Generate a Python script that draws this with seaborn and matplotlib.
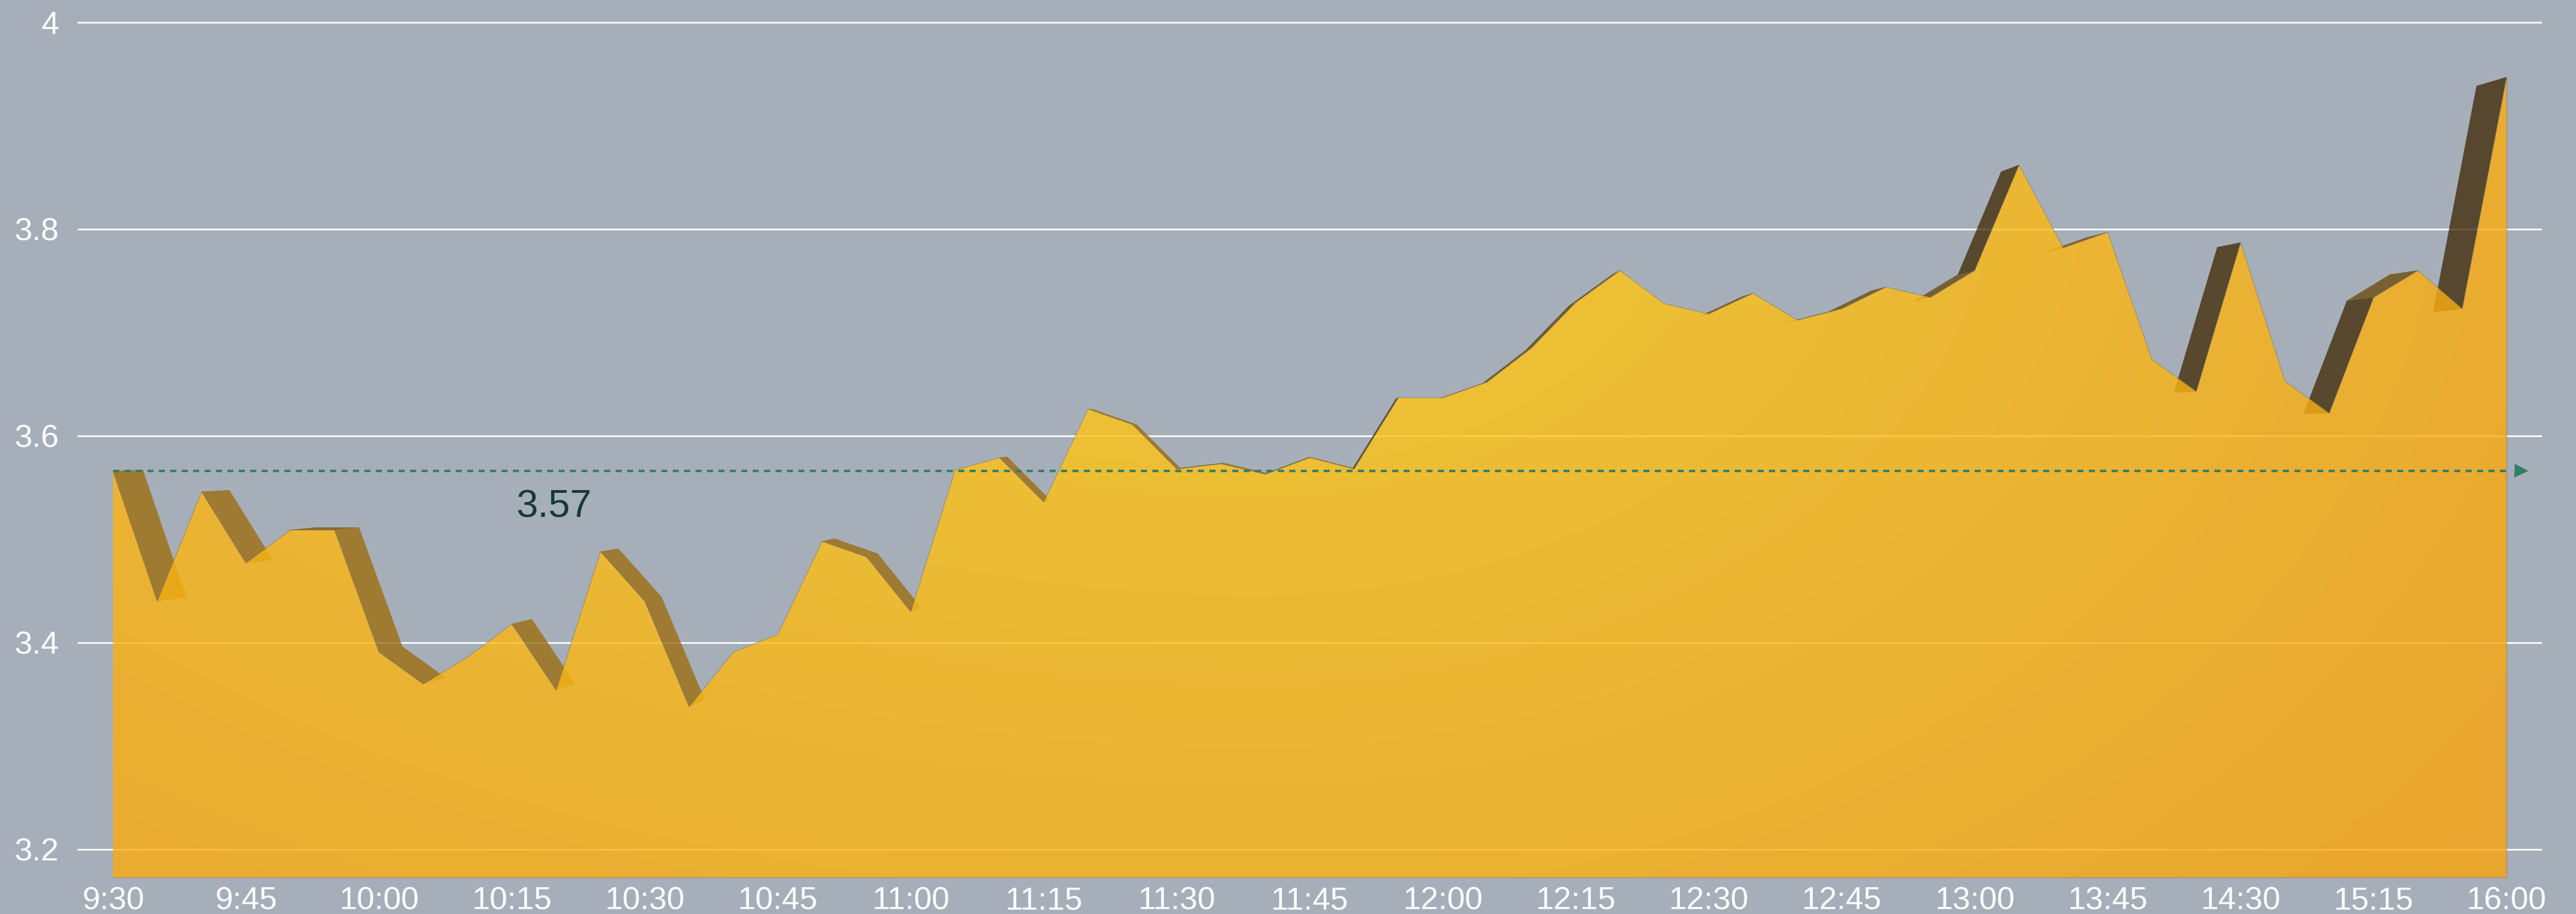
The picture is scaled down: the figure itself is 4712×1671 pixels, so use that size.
import numpy as np
import pandas as pd
import matplotlib
matplotlib.use("Agg")
import matplotlib.pyplot as plt
import seaborn as sns
from matplotlib.patches import Polygon

# ---------------- data ----------------
times = ["9:30", "9:35", "9:40", "9:45", "9:50", "9:55", "10:00", "10:05", "10:10", "10:15", "10:20", "10:25",
         "10:30", "10:35", "10:40", "10:45", "10:50", "10:55", "11:00", "11:05", "11:10", "11:15", "11:20", "11:25",
         "11:30", "11:35", "11:40", "11:45", "11:50", "11:55", "12:00", "12:05", "12:10", "12:15", "12:20", "12:25",
         "12:30", "12:35", "12:40", "12:45", "12:50", "12:55", "13:00", "13:15", "13:30", "13:45", "14:00", "14:15",
         "14:30", "14:45", "15:00", "15:15", "15:30", "15:45", "16:00"]

prices = [3.566, 3.440, 3.546, 3.477, 3.509, 3.509, 3.391, 3.360, 3.386, 3.418,
          3.354, 3.488, 3.440, 3.338, 3.391, 3.408, 3.498, 3.483, 3.430, 3.567,
          3.579, 3.536, 3.626, 3.611, 3.568, 3.573, 3.563, 3.579, 3.568, 3.637,
          3.637, 3.652, 3.685, 3.729, 3.760, 3.728, 3.718, 3.738, 3.712, 3.723,
          3.744, 3.734, 3.760, 3.862, 3.782, 3.797, 3.674, 3.643, 3.787, 3.653,
          3.622, 3.734, 3.760, 3.723, 3.947]

y_ticks = [3.2, 3.4, 3.6, 3.8, 4.0]
y_tick_labels = ["3.2", "3.4", "3.6", "3.8", "4"]
ref_value = prices[0]
ref_label = f"{ref_value:.2f}"

# ---------------- style ----------------
W_PX, H_PX, DPI = 4712, 1671, 100
BG = "#a6afb9"
GREEN = "#347d62"

sns.set_theme(style="white")
plt.rcParams["font.family"] = ["Liberation Sans", "DejaVu Sans"]

fig = plt.figure(figsize=(W_PX / DPI, H_PX / DPI), dpi=DPI, facecolor=BG)
L, R, T, B = 141.6, 4650.0, 39.0, 1605.0
ax = fig.add_axes([L / W_PX, 1 - B / H_PX, (R - L) / W_PX, (B - T) / H_PX])
ax.set_facecolor(BG)

df = pd.DataFrame({"idx": np.arange(len(prices)), "price": prices})
x = df["idx"].to_numpy()
y = df["price"].to_numpy()

XMIN, XMAX = -0.8017, len(prices) - 1 + 0.8017
YMIN = 3.2 - 52.0 / 1890.0
YMAX = 4.0 + 2.0 / 1890.0
ax.set_xlim(XMIN, XMAX)
ax.set_ylim(YMIN, YMAX)

# grid lines
for v in y_ticks:
    ax.axhline(v, color="white", lw=2.2, zorder=0.5)

# ---------------- extruded shadow ----------------
f = 0.975
vx, vy = (len(prices) - 1) / 2.0, 3.6042
sxs = vx + f * (x - vx)
sys_ = vy + f * (y - vy)
P = ax.transData.transform(np.column_stack([x, y]))
PS = ax.transData.transform(np.column_stack([sxs, sys_]))

s_knots = [-10, -0.3, 0.0, 0.5, 1.5, 2.3, 10]
c_knots = np.array([(160, 124, 50), (158, 122, 50), (138, 106, 48), (122, 98, 51),
                    (100, 82, 48), (88, 72, 46), (86, 70, 46)]) / 255.0


def shade(s):
    return tuple(np.interp(s, s_knots, c_knots[:, k]) for k in range(3))


for i in range(len(x) - 1):
    e = P[i + 1] - P[i]
    n = np.array([-e[1], e[0]])
    o = (PS[i] + PS[i + 1]) / 2 - (P[i] + P[i + 1]) / 2
    if n @ o <= 0:
        continue
    col = shade(e[1] / e[0])
    quad = [(x[i], y[i]), (x[i + 1], y[i + 1]), (sxs[i + 1], sys_[i + 1]), (sxs[i], sys_[i])]
    ax.add_patch(Polygon(quad, closed=True, facecolor=col, edgecolor=col, lw=0.6, zorder=1.5))

# faint grid visible through shadow
for v in y_ticks:
    ax.axhline(v, color="white", lw=2.2, alpha=0.12, zorder=1.6)

# ---------------- gradient area ----------------
poly = ax.fill_between(x, y, YMIN, facecolor="none", edgecolor="none", zorder=2)
Wg, Hg = 600, 220
Xp = L + (np.arange(Wg) + 0.5) / Wg * (R - L)
Yp = T + (np.arange(Hg) + 0.5) / Hg * (B - T)
XX, YY = np.meshgrid(Xp, Yp)
cx, cy = 2300.0, 300.0
dxn = np.where(XX < cx, (XX - cx) / 3800.0, (XX - cx) / 2700.0)
t = np.clip(np.sqrt(dxn ** 2 + ((YY - cy) / 1900.0) ** 2), 0, 1)
c0 = np.array([255, 207, 24]) / 255.0
c1 = np.array([250, 166, 16]) / 255.0
img = c0 + (c1 - c0) * t[..., None]
im = ax.imshow(img, extent=(XMIN, XMAX, YMIN, YMAX), origin="upper", aspect="auto",
               alpha=0.81, zorder=2, interpolation="bilinear")
im.set_clip_path(poly.get_paths()[0], transform=ax.transData)
ax.set_xlim(XMIN, XMAX)
ax.set_ylim(YMIN, YMAX)

# thin outline of the area
EDGE = (0.42, 0.44, 0.45, 0.55)
sns.lineplot(data=df, x="idx", y="price", ax=ax, color=EDGE, lw=0.9, zorder=3, legend=False)
ax.plot([x[-1], x[-1]], [YMIN, y[-1]], color=EDGE, lw=0.9, zorder=3)
ax.plot([x[0], x[-1]], [YMIN + 0.0004, YMIN + 0.0004], color=EDGE, lw=0.9, zorder=3)

# ---------------- reference line ----------------
ax.plot([x[0], 54.06], [ref_value, ref_value], color=GREEN, lw=3.2, dashes=(2.5, 2.2),
        dash_capstyle="butt", zorder=6)
ax.plot([54.33], [ref_value], marker=">", ms=18, color=GREEN, mew=0, zorder=6, clip_on=False)
ax.text(9.10, 3.5214, ref_label, fontsize=51, color="#173a32", ha="left", va="baseline", zorder=7)

# ---------------- axes ----------------
ax.set_xticks(x[::3])
ax.set_xticklabels(times[::3])
ax.set_yticks(y_ticks)
ax.set_yticklabels(y_tick_labels)
ax.tick_params(axis="x", length=0, pad=11, labelsize=42, labelcolor="white")
ax.tick_params(axis="y", length=0, pad=24, labelsize=42, labelcolor="white")
ax.set_xlabel("")
ax.set_ylabel("")
ax.grid(False)
for sp in ax.spines.values():
    sp.set_visible(False)

fig.savefig("out.png", dpi=DPI, facecolor=BG)
